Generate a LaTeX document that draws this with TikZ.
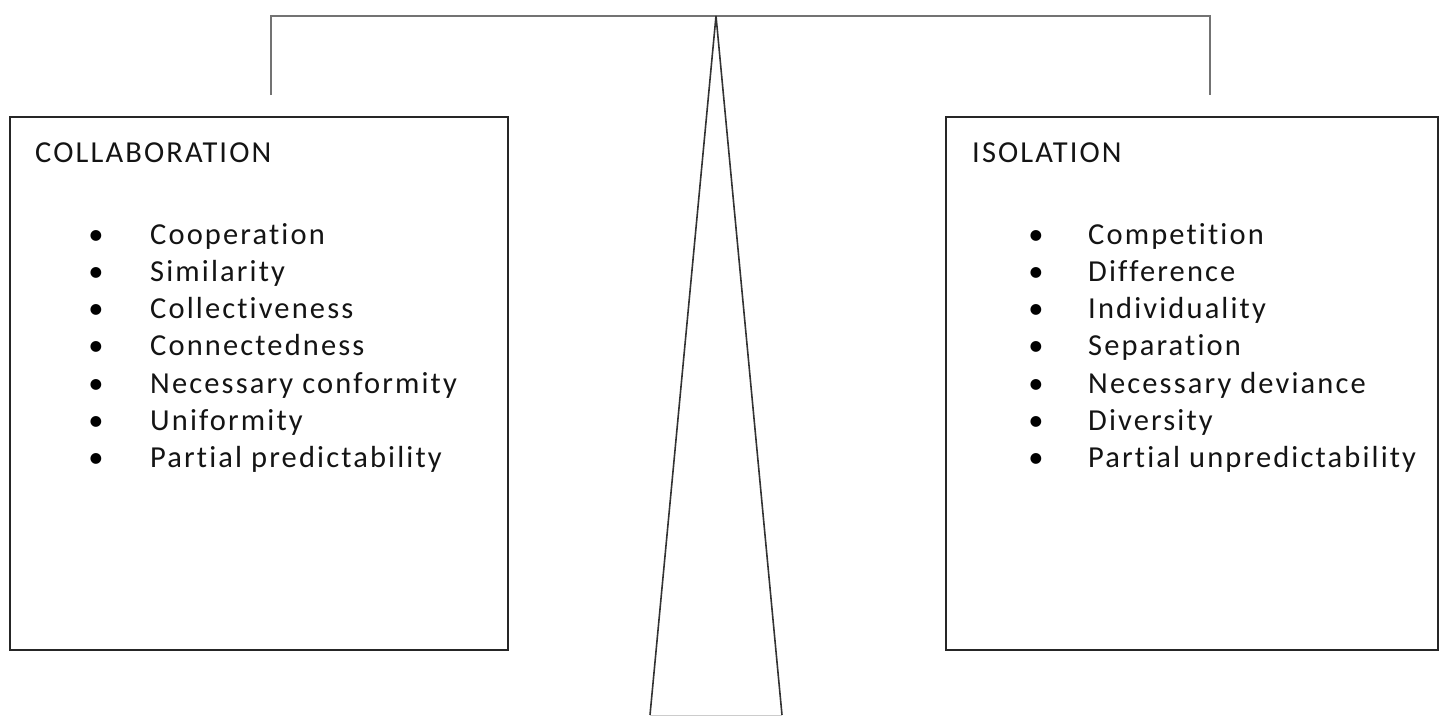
\documentclass[tikz,border=0pt]{standalone}
\usepackage{fontspec}
\setmainfont{Carlito}[Ligatures={NoCommon}, LetterSpace=7]
\begin{document}
\begin{tikzpicture}[x=1pt,y=-1pt,
  box/.style={draw=black!85, line width=2pt, rectangle, inner sep=0pt},
  beam/.style={draw=black!55, line width=2pt},
  post/.style={draw=black!80, line width=1.6pt},
  txt/.style={anchor=base west, inner sep=0pt, font=\fontsize{30.5}{36}\selectfont, text=black!92},
  bul/.style={anchor=base, inner sep=0pt, font=\fontsize{30.5}{36}\selectfont, text=black}]
\useasboundingbox (0,0) rectangle (1448,715);
% balance beam
\coordinate (apex) at (716,16);
\coordinate (bl) at (271,16);
\coordinate (br) at (1210,16);
\coordinate (hl) at (271,95);
\coordinate (hr) at (1210,95);
\draw[beam] (hl) -- (bl) -- (br) -- (hr);
% fulcrum
\coordinate (fl) at (650,715);
\coordinate (fr) at (782,715);
\draw[post] (fl) -- (apex) -- (fr);
\draw[draw=black!20, line width=1pt] (fl) -- (fr);
% boxes
\node[box, minimum width=498pt, minimum height=533pt] (lbox) at (259,383.5) {};
\node[box, minimum width=492pt, minimum height=533pt] (rbox) at (1192,383.5) {};
\node[txt] (ltitle) at (35,162) {COLLABORATION};
\node[txt] (rtitle) at (972,162) {ISOLATION};
\foreach \t [count=\i] in {Cooperation,Similarity,Collectiveness,Connectedness,Necessary conformity,Uniformity,Partial predictability}{
  \node[bul] (lb\i) at (96,{244+37.3*(\i-1)}) {•};
  \node[txt] (li\i) at (150,{244+37.3*(\i-1)}) {\t};
}
\foreach \t [count=\i] in {Competition,Difference,Individuality,Separation,Necessary deviance,Diversity,Partial unpredictability}{
  \node[bul] (rb\i) at (1036,{244+37.3*(\i-1)}) {•};
  \node[txt] (ri\i) at (1088,{244+37.3*(\i-1)}) {\t};
}
\end{tikzpicture}
\end{document}
